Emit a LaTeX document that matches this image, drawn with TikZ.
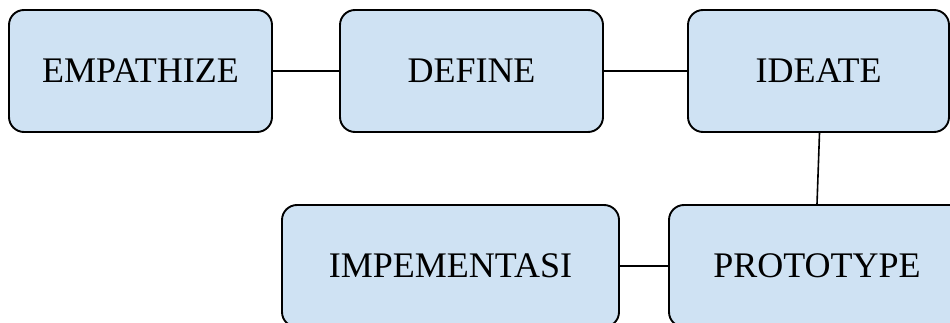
\documentclass[tikz,border=0pt]{standalone}
\usepackage{fontspec}
\setmainfont{Liberation Serif}
\usepackage{xcolor}
\definecolor{caixa}{HTML}{CFE2F3}

\begin{document}
\begin{tikzpicture}[x=1pt, y=-1pt,
        etapa/.style={draw, line width=1.9, fill=caixa, rounded corners=15,
            minimum height=122, inner sep=0, font=\fontsize{36}{40}\selectfont},
        liga/.style={line width=1.6}]
            % Area da figura
            \clip (0,0) rectangle (950,323);
            \node[etapa, minimum width=263] (empathize) at (140.5,71) {EMPATHIZE};
            \node[etapa, minimum width=263] (define) at (471.5,71) {DEFINE};
            \node[etapa, minimum width=261] (ideate) at (818.5,71) {IDEATE};
            \node[etapa, minimum width=337] (implementasi) at (450.5,266) {IMPEMENTASI};
            \node[etapa, minimum width=296] (prototype) at (817,266) {PROTOTYPE};
            % Ligacoes
            \draw[liga] (empathize) -- (define);
            \draw[liga] (define) -- (ideate);
            \draw[liga] ([xshift=1]ideate.south) -- (prototype.north);
            \draw[liga] (implementasi) -- (prototype);
        \end{tikzpicture}
\end{document}
